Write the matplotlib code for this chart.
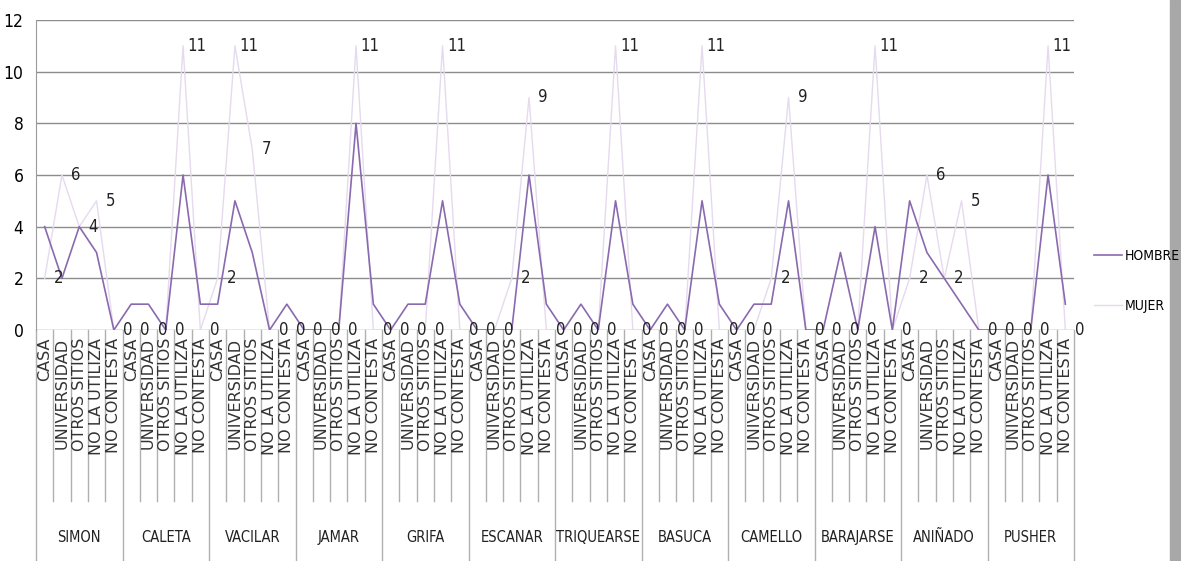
import numpy as np
import matplotlib
matplotlib.use("Agg")
import matplotlib.pyplot as plt
from matplotlib import font_manager as fm
from matplotlib.transforms import blended_transform_factory
from matplotlib.patches import Rectangle

groups = ["SIMON", "CALETA", "VACILAR", "JAMAR", "GRIFA", "ESCANAR",
          "TRIQUEARSE", "BASUCA", "CAMELLO", "BARAJARSE", "ANIÑADO", "PUSHER"]
places = ["CASA", "UNIVERSIDAD", "OTROS SITIOS", "NO LA UTILIZA", "NO CONTESTA"]

hombre = [4, 2, 4, 3, 0,
          1, 1, 0, 6, 1,
          1, 5, 3, 0, 1,
          0, 0, 0, 8, 1,
          0, 1, 1, 5, 1,
          0, 0, 0, 6, 1,
          0, 1, 0, 5, 1,
          0, 1, 0, 5, 1,
          0, 1, 1, 5, 0,
          0, 3, 0, 4, 0,
          5, 3, 2, 1, 0,
          0, 0, 0, 6, 1]
mujer = [2, 6, 4, 5, 0,
         0, 0, 0, 11, 0,
         2, 11, 7, 0, 0,
         0, 0, 0, 11, 0,
         0, 0, 0, 11, 0,
         0, 0, 2, 9, 0,
         0, 0, 0, 11, 0,
         0, 0, 0, 11, 0,
         0, 0, 2, 9, 0,
         0, 0, 0, 11, 0,
         2, 6, 2, 5, 0,
         0, 0, 0, 11, 0]

# look for a narrow, regular face (the original uses a condensed font)
narrow_font = None
for f in fm.fontManager.ttflist:
    cond = "Narrow" in f.name or "Condensed" in f.name or f.stretch in ("condensed", "semi-condensed")
    if cond and f.weight in (400, "normal", "regular", "book") and f.style == "normal":
        narrow_font = fm.FontProperties(fname=f.fname)
        break
if narrow_font is None:
    narrow_font = fm.FontProperties(family="Liberation Sans")

def nf(size):
    p = narrow_font.copy()
    p.set_size(size)
    return p

fig = plt.figure(figsize=(11.81, 5.61), dpi=100)
ax = fig.add_axes([36 / 1181, 231 / 561, 1038 / 1181, 310 / 561])

n = len(hombre)
x = np.arange(n)

ax.plot(x, mujer, color="#e6daee", lw=1.0, label="MUJER", zorder=3)
ax.plot(x, hombre, color="#8a6aae", lw=1.2, label="HOMBRE", zorder=4)

for xi, v in zip(x, mujer):
    ax.annotate(str(v), (xi, v), xytext=(14, 0), textcoords="offset pixels",
                ha="center", va="center", fontproperties=nf(12),
                color="#222222", zorder=5)

ax.set_xlim(-0.5, n - 0.5)
ax.set_ylim(0, 12)
ax.set_yticks(range(0, 13, 2))
ax.yaxis.grid(True, color="#8c8c8c", lw=1.0)
ax.set_axisbelow(True)
ax.tick_params(axis="y", length=0, pad=9)
for lab in ax.get_yticklabels():
    lab.set_fontproperties(nf(12.5))
ax.set_xticks([])
for s in ["top", "right", "bottom"]:
    ax.spines[s].set_visible(False)
ax.spines["left"].set_color("#9a9a9a")

trans = blended_transform_factory(ax.transData, ax.transAxes)
# category labels and separators
for i in range(n):
    ax.text(i, -0.025, places[i % 5], rotation=90, ha="center", va="top",
            fontsize=11.5, family="DejaVu Sans", color="#333333", transform=trans)
for k in range(n + 1):
    if k % 5 == 0:
        ax.plot([k - 0.5, k - 0.5], [0, -0.75], color="#b0b0b0", lw=1,
                transform=trans, clip_on=False)
    else:
        ax.plot([k - 0.5, k - 0.5], [0, -0.55], color="#b0b0b0", lw=1,
                transform=trans, clip_on=False)
for g, name in enumerate(groups):
    ax.text(g * 5 + 2, -0.67, name, ha="center", va="center",
            fontproperties=nf(10.5), color="#222222", transform=trans)

handles, labels = ax.get_legend_handles_labels()
fig.legend(handles[::-1], labels[::-1], loc="center left",
           bbox_to_anchor=(1094 / 1181, 1 - 281 / 561), frameon=False,
           borderpad=0, borderaxespad=0, handlelength=2.0, handletextpad=0.2,
           labelspacing=2.6, prop=nf(10))

# scanned page edge
fig.patches.append(Rectangle((1170 / 1181, 0), 11 / 1181, 1, transform=fig.transFigure,
                             color="#a8a8a8", zorder=0))

fig.savefig("out.png", dpi=100)
